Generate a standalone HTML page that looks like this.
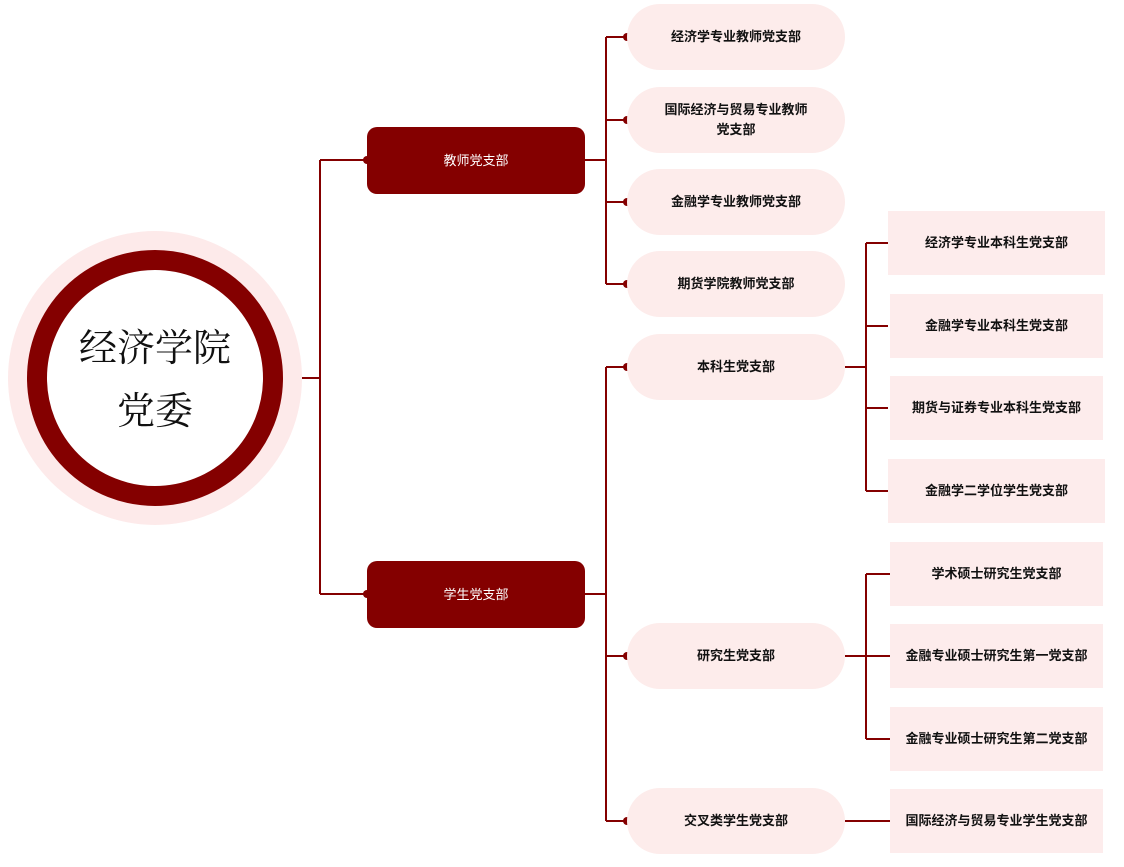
<!DOCTYPE html>
<html><head><meta charset="utf-8"><style>
body{margin:0;width:1124px;height:867px;background:#fff;overflow:hidden;font-family:"Liberation Sans","Noto Sans CJK SC",sans-serif;}
.n{position:absolute;display:flex;align-items:center;justify-content:center;text-align:center;font-size:13px;font-weight:bold;color:#111;line-height:20px;}
.p{background:#fdeceb;border-radius:33px;width:218px;height:66px;left:627px;}
.r{background:#fdecec;width:216px;height:64px;}
.d{background:#840000;color:#fff;border-radius:10px;width:218px;height:67px;left:367px;font-weight:normal;}
</style></head><body>
<svg width="1124" height="867" style="position:absolute;left:0;top:0">
<circle cx="155" cy="378" r="147" fill="#fdeaea"/>
<circle cx="155" cy="378" r="118" fill="#fff" stroke="#840000" stroke-width="20"/>
<g stroke="#840000" stroke-width="2" fill="none">
<path d="M302 378H320M320 160V594M320 160H367M320 594H367"/>
<path d="M585 160H606M606 37V284M606 37H627M606 120H627M606 202H627M606 284H627"/>
<path d="M585 594H606M606 367V821M606 367H627M606 656H627M606 821H627"/>
<path d="M845 367H866M866 243V491M866 243H888M866 326H888M866 408H888M866 491H888"/>
<path d="M845 656H866M866 574V739M866 574H890M866 656H890M866 739H890"/>
<path d="M845 821H890"/>
</g>
<g fill="#840000">
<circle cx="627" cy="37" r="4"/><circle cx="627" cy="120" r="4"/><circle cx="627" cy="202" r="4"/><circle cx="627" cy="284" r="4"/>
<circle cx="627" cy="367" r="4"/><circle cx="627" cy="656" r="4"/><circle cx="627" cy="821" r="4"/>
<circle cx="367" cy="160" r="4"/><circle cx="367" cy="594" r="4"/>
</g>
<text x="155" y="361" font-size="38" text-anchor="middle" font-family="'Noto Serif CJK SC',serif" fill="#111">经济学院</text>
<text x="155" y="424" font-size="38" text-anchor="middle" font-family="'Noto Serif CJK SC',serif" fill="#111">党委</text>
</svg>
<div class="n d" style="top:127px">教师党支部</div>
<div class="n d" style="top:561px">学生党支部</div>
<div class="n p" style="top:4px">经济学专业教师党支部</div>
<div class="n p" style="top:87px">国际经济与贸易专业教师<br>党支部</div>
<div class="n p" style="top:169px">金融学专业教师党支部</div>
<div class="n p" style="top:251px">期货学院教师党支部</div>
<div class="n p" style="top:334px">本科生党支部</div>
<div class="n p" style="top:623px">研究生党支部</div>
<div class="n p" style="top:788px">交叉类学生党支部</div>
<div class="n r" style="left:888px;top:211px;width:217px">经济学专业本科生党支部</div>
<div class="n r" style="left:890px;top:294px;width:213px">金融学专业本科生党支部</div>
<div class="n r" style="left:890px;top:376px;width:213px">期货与证券专业本科生党支部</div>
<div class="n r" style="left:888px;top:459px;width:217px">金融学二学位学生党支部</div>
<div class="n r" style="left:890px;top:542px;width:213px">学术硕士研究生党支部</div>
<div class="n r" style="left:890px;top:624px;width:213px">金融专业硕士研究生第一党支部</div>
<div class="n r" style="left:890px;top:707px;width:213px">金融专业硕士研究生第二党支部</div>
<div class="n r" style="left:890px;top:789px;width:213px">国际经济与贸易专业学生党支部</div>
</body></html>
